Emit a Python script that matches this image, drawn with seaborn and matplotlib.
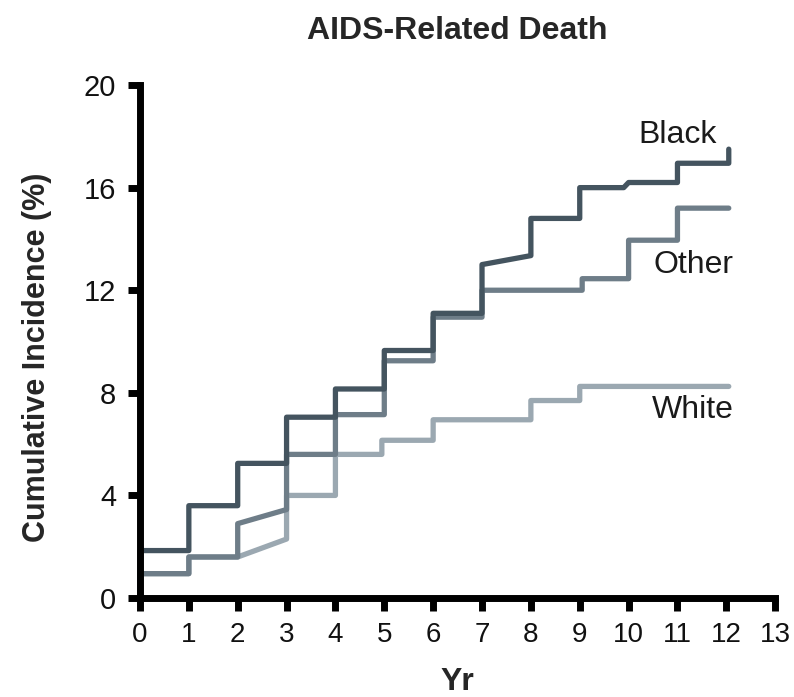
import matplotlib
matplotlib.use("Agg")
import matplotlib.pyplot as plt
import seaborn as sns
import pandas as pd

# Vertices of the cumulative incidence curves (years, %)
black_t = [0, 0, 1, 1, 2, 2, 3, 3, 4, 4, 5, 5, 6, 6, 7, 7, 8, 8, 9, 9, 9.9, 10, 11, 11, 12.05, 12.05]
black_y = [0, 1.85, 1.85, 3.6, 3.6, 5.25, 5.25, 7.05, 7.05, 8.15, 8.15, 9.65, 9.65, 11.1, 11.1,
           13.0, 13.35, 14.8, 14.8, 16.0, 16.0, 16.2, 16.2, 16.95, 16.95, 17.5]
other_t = [0, 0, 1, 1, 2, 2, 3, 3, 4, 4, 5, 5, 6, 6, 7, 7, 9.05, 9.05, 10, 10, 11, 11, 12.05]
other_y = [0, 0.95, 0.95, 1.6, 1.6, 2.9, 3.45, 5.6, 5.6, 7.15, 7.15, 9.25, 9.25, 10.95, 10.95,
           12.0, 12.0, 12.45, 12.45, 13.95, 13.95, 15.2, 15.2]
white_t = [0, 0, 1, 1, 2, 3, 3, 4, 4, 4.95, 4.95, 6, 6, 8, 8, 9, 9, 12.05]
white_y = [0, 0.95, 0.95, 1.6, 1.6, 2.3, 4.0, 4.0, 5.6, 5.6, 6.15, 6.15, 6.95, 6.95, 7.7, 7.7, 8.25, 8.25]

groups = ["Black", "Other", "White"]
colors = {"Black": "#44545f", "Other": "#6e7d88", "White": "#9ba8b1"}
x_ticks = list(range(0, 14))
y_ticks = [0, 4, 8, 12, 16, 20]

frames = []
for g, t, y in [("Black", black_t, black_y), ("Other", other_t, other_y), ("White", white_t, white_y)]:
    d = pd.DataFrame({"Yr": t, "CI": y})
    d["group"] = g
    frames.append(d)
df = pd.concat(frames, ignore_index=True)

sns.set_theme(style="ticks")
fam = ["Liberation Sans Narrow", "Liberation Sans", "DejaVu Sans"]
plt.rcParams["font.family"] = fam

fig = plt.figure(figsize=(7.94, 6.97), dpi=100)
ax = fig.add_axes([0.1763, 0.142, 0.8, 0.736])

# draw in reverse so Black sits on top
for g in ["White", "Other", "Black"]:
    sub = df[df["group"] == g]
    sns.lineplot(data=sub, x="Yr", y="CI", sort=False, estimator=None, color=colors[g],
                 lw=3.8, ax=ax, legend=False, clip_on=False)

ax.set_xlim(0, 13)
ax.set_ylim(0, 20)
ax.set_xticks(x_ticks)
ax.set_yticks(y_ticks)
ax.set_xticklabels([str(v) for v in x_ticks], fontsize=20, color="#111111")
ax.set_yticklabels([str(v) for v in y_ticks], fontsize=21, color="#111111")
ax.tick_params(axis="both", length=9, width=5, color="black", pad=8)

for s in ["top", "right"]:
    ax.spines[s].set_visible(False)
for s in ["left", "bottom"]:
    ax.spines[s].set_linewidth(5)
    ax.spines[s].set_color("black")
    ax.spines[s].set_capstyle("projecting")

ax.set_xlabel("Yr", fontsize=23, fontweight="bold", labelpad=14)
ax.set_ylabel("Cumulative Incidence (%)", fontsize=22, fontweight="bold")
ax.yaxis.set_label_coords(-0.138, 0.47)
ax.set_title("AIDS-Related Death", fontsize=23, fontweight="bold", pad=33)

label_pos = {"Black": (11.0, 18.05), "Other": (11.32, 12.98), "White": (11.32, 7.33)}
for g in groups:
    x, y = label_pos[g]
    ax.text(x, y, g, fontsize=23, ha="center", va="center", color="#1a1a1a")

fig.savefig("out.png", dpi=100)
